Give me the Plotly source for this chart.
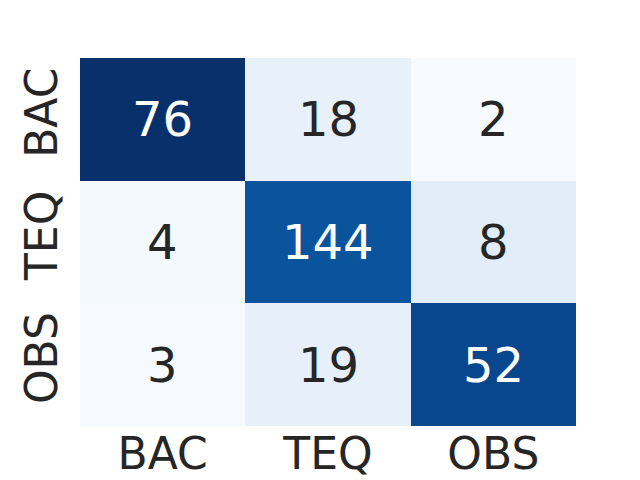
import numpy as np
import plotly.graph_objects as go

labels = ["BAC", "TEQ", "OBS"]
counts = [
    [76, 18, 2],
    [4, 144, 8],
    [3, 19, 52],
]

c = np.array(counts, dtype=float)
z = c / c.sum(axis=0, keepdims=True)

blues = ["#f7fbff", "#deebf7", "#c6dbef", "#9ecae1", "#6baed6",
         "#4292c6", "#2171b5", "#08519c", "#08306b"]
cs = [[i / (len(blues) - 1), col] for i, col in enumerate(blues)]

zmin, zmax = z.min(), z.max()
text_colors = []
for i in range(3):
    for j in range(3):
        t = (z[i, j] - zmin) / (zmax - zmin)
        text_colors.append("white" if t > 0.6 else "#262626")

fig = go.Figure(go.Heatmap(
    z=z, x=labels, y=labels, colorscale=cs, zmin=zmin, zmax=zmax,
    showscale=False, xgap=0, ygap=0, hoverinfo="skip",
))

for i in range(3):
    for j in range(3):
        fig.add_annotation(x=labels[j], y=labels[i], text=str(counts[i][j]),
                           showarrow=False,
                           font=dict(size=48, color=text_colors[i * 3 + j],
                                     family="DejaVu Sans"))

fig.update_layout(
    width=632, height=472,
    margin=dict(l=72, r=64, t=50, b=54),
    paper_bgcolor="white", plot_bgcolor="white",
    font=dict(family="DejaVu Sans", color="#262626"),
)
fig.update_xaxes(tickfont=dict(size=44, color="#262626"), ticks="",
                 ticklabelstandoff=-2, showgrid=False,
                 zeroline=False, showline=False, automargin=False)
fig.update_yaxes(tickfont=dict(size=44, color="#262626"), ticks="outside",
                 ticklen=4, tickcolor="rgba(0,0,0,0)", autorange="reversed",
                 tickangle=-90, showgrid=False, zeroline=False, showline=False,
                 automargin=False)

fig.write_html("out.html")
